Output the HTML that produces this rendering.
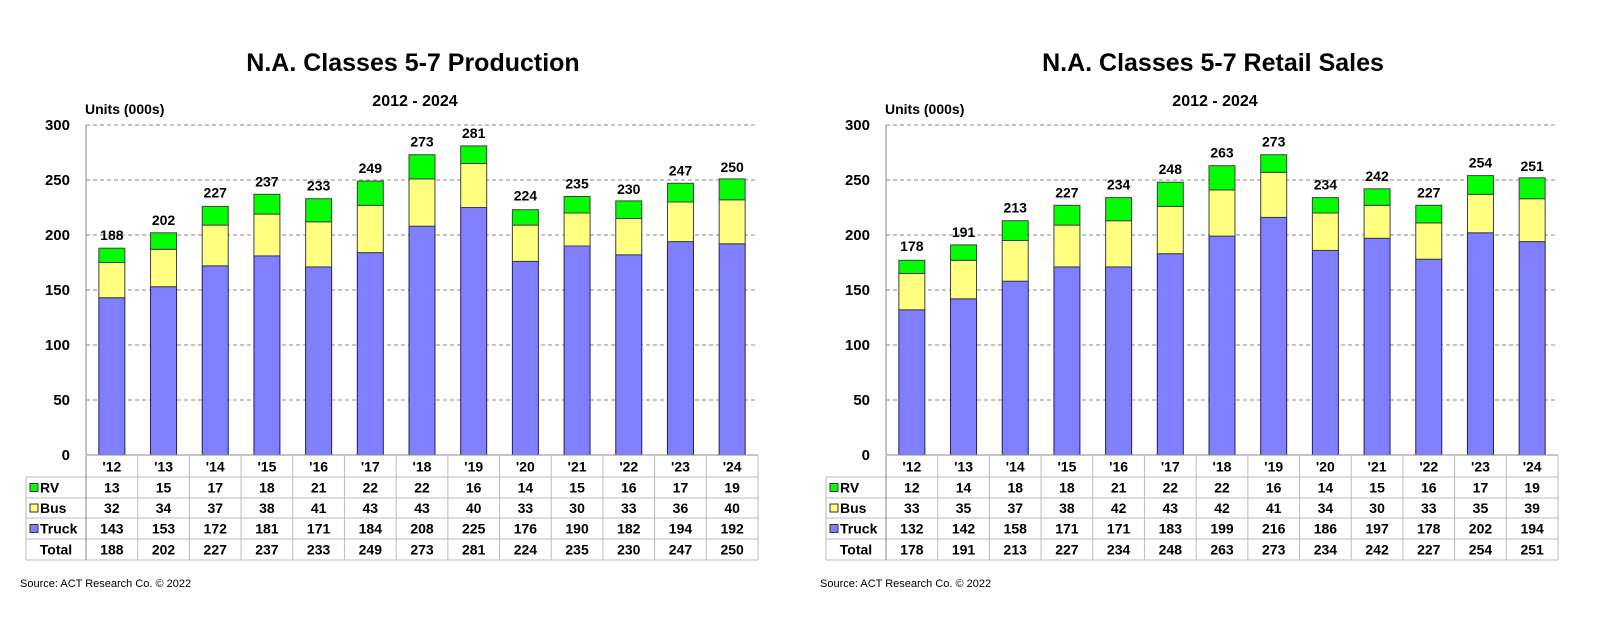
<!DOCTYPE html>
<html><head><meta charset="utf-8"><style>
html,body{margin:0;padding:0;background:#fff;}
svg{display:block;font-family:"Liberation Sans",Arial,sans-serif;}
</style></head><body>
<svg id="svg" width="1600" height="619" viewBox="0 0 1600 619" xmlns="http://www.w3.org/2000/svg"></svg>
<script>
const categories = ["'12","'13","'14","'15","'16","'17","'18","'19","'20","'21","'22","'23","'24"];
const prodRV = [13,15,17,18,21,22,22,16,14,15,16,17,19];
const prodBus = [32,34,37,38,41,43,43,40,33,30,33,36,40];
const prodTruck = [143,153,172,181,171,184,208,225,176,190,182,194,192];
const prodTotal = [188,202,227,237,233,249,273,281,224,235,230,247,250];
const salesRV = [12,14,18,18,21,22,22,16,14,15,16,17,19];
const salesBus = [33,35,37,38,42,43,42,41,34,30,33,35,39];
const salesTruck = [132,142,158,171,171,183,199,216,186,197,178,202,194];
const salesTotal = [178,191,213,227,234,248,263,273,234,242,227,254,251];
const yTicks = [0,50,100,150,200,250,300];

const NS="http://www.w3.org/2000/svg";
const svg=document.getElementById('svg');
function mk(tag,attrs,parent,text){
  const e=document.createElementNS(NS,tag);
  for(const k in attrs) e.setAttribute(k,attrs[k]);
  if(text!==undefined) e.textContent=text;
  (parent||svg).appendChild(e);
  return e;
}

function drawChart(ox,title,rv,bus,truck,total,key){
  const g=mk('g',{});
  
  
  const left=86+ox, right=758+ox, top=125, bottom=455;
  const colW=(right-left)/categories.length;
  const y=v=>bottom-(v/300)*(bottom-top);
  const xc=i=>left+colW*(i+0.5);
  const cx=(left+right)/2-17;
  let t=mk('text',{x:cx+8,y:71,'text-anchor':'middle','font-size':25,'font-weight':'bold',fill:'#000'},g,title);
  
  
  t=mk('text',{x:cx+10,y:106,'text-anchor':'middle','font-size':16,'font-weight':'bold',fill:'#000'},g,'2012 - 2024');
  
  
  t=mk('text',{x:left-1,y:114,'font-size':14,'font-weight':'bold',fill:'#000'},g,'Units (000s)');
  
  
  yTicks.forEach(v=>{
    if(v>0){
      const l=mk('line',{x1:left,x2:right,y1:y(v),y2:y(v),stroke:'#888','stroke-width':1,'stroke-dasharray':'4,3'},g);
      
      
    }
    const tt=mk('text',{x:left-16,y:y(v)+5,'text-anchor':'end','font-size':15,'font-weight':'bold',fill:'#000'},g,String(v));
    
    
  });
  const ax=mk('line',{x1:left,x2:left,y1:top,y2:bottom,stroke:'#888','stroke-width':1},g);
  
  
  const bw=26;
  categories.forEach((c,i)=>{
    const x=xc(i)-bw/2;
    const segs=[[0,truck[i],'#8080ff','truck'],[truck[i],truck[i]+bus[i],'#ffff80','bus'],[truck[i]+bus[i],truck[i]+bus[i]+rv[i],'#00ff00','rv']];
    segs.forEach(s=>{
      const r=mk('rect',{x:x,y:y(s[1]),width:bw,height:y(s[0])-y(s[1]),fill:s[2],stroke:s[3]==='truck'?'#202060':'#404040','stroke-width':1},g);
      
      
    });
    const lbl=mk('text',{x:xc(i),y:y(total[i])-8,'text-anchor':'middle','font-size':14,'font-weight':'bold',fill:'#000'},g,String(total[i]));
    
    
  });
  // table
  const rows=[456,477,498,518,539,560];
  const tl=26+ox;
  const lc='#bbb';
  const bl=mk('line',{x1:left,x2:right,y1:bottom,y2:bottom,stroke:'#888'},g);
  
  
  for(let r=1;r<rows.length;r++){
    const l=mk('line',{x1:tl,x2:right,y1:rows[r],y2:rows[r],stroke:lc},g);
    
    
  }
  for(let i=0;i<=categories.length;i++){
    const xx=left+colW*i;
    const l=mk('line',{x1:xx,x2:xx,y1:rows[0],y2:rows[5],stroke:i===0?'#888':lc},g);
    
    
  }
  const vl=mk('line',{x1:tl,x2:tl,y1:rows[1],y2:rows[5],stroke:lc},g);
  
  
  const rowData=[categories,rv,bus,truck,total];
  const rowNames=[null,'RV','Bus','Truck','Total'];
  const rowCol=[null,'#00ff00','#ffff80','#8080ff',null];
  rowData.forEach((arr,r)=>{
    const ty=(rows[r]+rows[r+1])/2+5;
    arr.forEach((v,i)=>{
      const tx=mk('text',{x:xc(i),y:ty,'text-anchor':'middle','font-size':14,'font-weight':'bold',fill:'#000'},g,String(v));
      
      
    });
    if(rowNames[r]){
      if(rowCol[r]){
        const sw=mk('rect',{x:tl+4,y:ty-9,width:8,height:8,fill:rowCol[r],stroke:'#333','stroke-width':1},g);
        
        
        const ln=mk('text',{x:tl+14,y:ty,'font-size':14,'font-weight':'bold',fill:'#000'},g,rowNames[r]);
        
        
      } else {
        const ln=mk('text',{x:(tl+left)/2,y:ty,'text-anchor':'middle','font-size':14,'font-weight':'bold',fill:'#000'},g,rowNames[r]);
        
        
      }
    }
  });
  const src=mk('text',{x:20+ox,y:587,'font-size':11,fill:'#000'},g,'Source: ACT Research Co. © 2022');
  
  
}
drawChart(0,'N.A. Classes 5-7 Production',prodRV,prodBus,prodTruck,prodTotal,'production');
drawChart(800,'N.A. Classes 5-7 Retail Sales',salesRV,salesBus,salesTruck,salesTotal,'retail-sales');
</script>
</body></html>
